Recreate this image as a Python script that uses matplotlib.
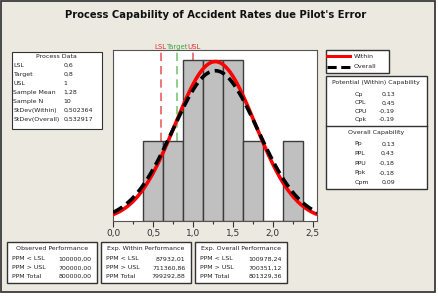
import numpy as np
import matplotlib
matplotlib.use("Agg")
import matplotlib.pyplot as plt
from matplotlib.patches import Rectangle
from matplotlib.lines import Line2D
from matplotlib.ticker import FuncFormatter, MultipleLocator

# ---- data ----
bin_edges = [0.375, 0.625, 0.875, 1.125, 1.375, 1.625, 1.875, 2.125, 2.375]
counts = [1, 1, 2, 2, 2, 1, 0, 1]
lsl, target, usl = 0.6, 0.8, 1.0
sample_mean = 1.28
sample_n = 10
sd_within = 0.502364
sd_overall = 0.532917

process_labels = ["LSL", "Target", "USL", "Sample Mean", "Sample N", "StDev(Within)", "StDev(Overall)"]
process_values = ["0,6", "0,8", "1", "1,28", "10", "0,502364", "0,532917"]
within_labels = ["Cp", "CPL", "CPU", "Cpk"]
within_values = ["0,13", "0,45", "-0,19", "-0,19"]
overall_labels = ["Pp", "PPL", "PPU", "Ppk", "Cpm"]
overall_values = ["0,13", "0,43", "-0,18", "-0,18", "0,09"]
perf_labels = ["PPM < LSL", "PPM > USL", "PPM Total"]
observed_values = ["100000,00", "700000,00", "800000,00"]
exp_within_values = ["87932,01", "711360,86", "799292,88"]
exp_overall_values = ["100978,24", "700351,12", "801329,36"]

W, H = 439, 296
fig = plt.figure(figsize=(W / 100, H / 100), dpi=100)
fig.patch.set_facecolor("white")

def fx(x):
    return x / W

def fy(y):
    return 1 - y / H

BG = "#ECE9E1"
fig.patches.append(Rectangle((fx(1), fy(291.5)), fx(434), (291.5 - 1) / H,
                             transform=fig.transFigure, facecolor=BG,
                             edgecolor="#3a3a3a", lw=1.3, zorder=-5))

# ---- axes ----
ax = fig.add_axes([fx(113), fy(220.7), fx(317.3 - 113), (220.7 - 50) / H])
ax.set_zorder(1)
ax.set_facecolor("white")
ax.set_xlim(-0.003, 2.56)
ax.set_ylim(0, 2.13)

centers = [(bin_edges[i] + bin_edges[i + 1]) / 2 for i in range(len(counts))]
widths = [bin_edges[i + 1] - bin_edges[i] for i in range(len(counts))]
ax.bar(centers, counts, width=widths, color="#C0C0C0", edgecolor="#3c3c3c", lw=1.0, zorder=3)

ax.axvline(lsl, color="#E86060", ls=(0, (5, 3)), lw=1.2, zorder=1)
ax.axvline(target, color="#7CC77C", ls=(0, (5, 3)), lw=1.2, zorder=1)
ax.axvline(usl, color="#E86060", ls=(0, (5, 3)), lw=1.2, zorder=1)

scale = sample_n * widths[0]
xs = np.linspace(-0.003, 2.56, 400)
yw = scale * np.exp(-0.5 * ((xs - sample_mean) / sd_within) ** 2) / (sd_within * np.sqrt(2 * np.pi))
yo = scale * np.exp(-0.5 * ((xs - sample_mean) / sd_overall) ** 2) / (sd_overall * np.sqrt(2 * np.pi))
ax.plot(xs, yw, color="#FF0000", lw=2.6, zorder=4, solid_capstyle="butt")
ax.plot(xs, yo, color="black", lw=2.6, ls=(0, (3, 1.5)), zorder=5)

ax.set_yticks([])
ax.xaxis.set_major_locator(MultipleLocator(0.5))
ax.xaxis.set_minor_locator(MultipleLocator(0.25))
ax.xaxis.set_major_formatter(FuncFormatter(lambda v, p: f"{v:.1f}".replace(".", ",")))
ax.tick_params(axis="x", which="major", length=4, width=0.8, labelsize=6.5, colors="#333333", pad=2)
ax.tick_params(axis="x", which="minor", length=2.5, width=0.8, colors="#333333")
for s in ax.spines.values():
    s.set_color("#555555")
    s.set_linewidth(0.8)

ax.text(lsl - 0.01, 1.0, "LSL", transform=ax.get_xaxis_transform(), ha="center", va="bottom",
        fontsize=5.0, color="#E03030")
ax.text(target, 1.0, "Target", transform=ax.get_xaxis_transform(), ha="center", va="bottom",
        fontsize=5.0, color="#40A840")
ax.text(usl + 0.01, 1.0, "USL", transform=ax.get_xaxis_transform(), ha="center", va="bottom",
        fontsize=5.0, color="#E03030")

# ---- title ----
fig.text(fx(216), fy(15), "Process Capability of Accident Rates due Pilot's Error",
         ha="center", va="center", fontsize=7.2, fontweight="bold", color="#111111")

FS = 4.5
TC = "#222222"

def box(x0, y0, x1, y1, lw=1.0):
    fig.patches.append(Rectangle((fx(x0), fy(y1)), fx(x1 - x0), (y1 - y0) / H,
                                 transform=fig.transFigure, facecolor="white",
                                 edgecolor="#333333", lw=lw, zorder=2))

def t(x, y, s, ha="left"):
    fig.text(fx(x), fy(y), s, ha=ha, va="center", fontsize=FS, color=TC, zorder=3)

# Process data
box(11.7, 51.7, 101.7, 129.3, lw=0.8)
t(56.7, 56, "Process Data", ha="center")
for i, (lab, val) in enumerate(zip(process_labels, process_values)):
    y = 65.5 + i * 9.0
    t(13.5, y, lab)
    t(63.5, y, val)

# Legend
box(325.7, 50, 389, 73.3, lw=1.0)
fig.lines.append(Line2D([fx(327.5), fx(350)], [fy(56), fy(56)], transform=fig.transFigure,
                        color="#FF0000", lw=2.2, zorder=3))
fig.lines.append(Line2D([fx(327.5), fx(350)], [fy(67), fy(67)], transform=fig.transFigure,
                        color="black", lw=2.2, ls=(0, (3, 1.5)), zorder=3))
t(353.5, 56, "Within")
t(353.5, 67, "Overall")

# Capability
box(325.7, 76, 426.7, 189, lw=1.0)
fig.lines.append(Line2D([fx(325.7), fx(426.7)], [fy(125.7), fy(125.7)], transform=fig.transFigure,
                        color="#333333", lw=1.0, zorder=3))
t(376, 82.5, "Potential (Within) Capability", ha="center")
for i, (lab, val) in enumerate(zip(within_labels, within_values)):
    y = 94.5 + i * 8.3
    t(354.5, y, lab)
    t(395, y, val, ha="right")
t(376, 132.8, "Overall Capability", ha="center")
for i, (lab, val) in enumerate(zip(overall_labels, overall_values)):
    y = 144 + i * 9.6
    t(354.5, y, lab)
    t(395, y, val, ha="right")

# Performance boxes
perf = [("Observed Performance", observed_values, 7.3, 96.7),
        ("Exp. Within Performance", exp_within_values, 101, 191),
        ("Exp. Overall Performance", exp_overall_values, 195, 287.3)]
for title, vals, x0, x1 in perf:
    box(x0, 241.7, x1, 283.3, lw=1.0)
    t((x0 + x1) / 2, 248.5, title, ha="center")
    for i, (lab, val) in enumerate(zip(perf_labels, vals)):
        y = 259 + i * 8.8
        t(x0 + 5, y, lab)
        t(x1 - 5.5, y, val, ha="right")

fig.savefig("out.png", dpi=100, facecolor=fig.get_facecolor())
